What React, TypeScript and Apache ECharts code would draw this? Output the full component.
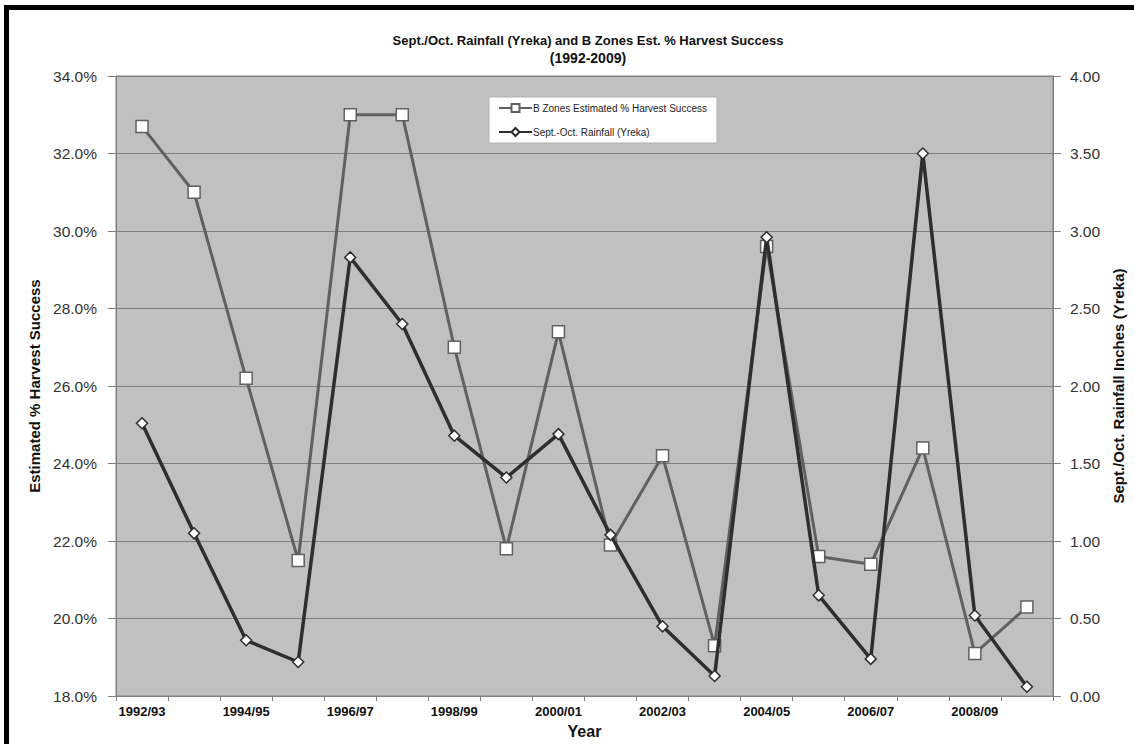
import React, { useEffect, useRef } from "react";
import * as echarts from "echarts";

const categories = [
  "1992/93", "1993/94", "1994/95", "1995/96", "1996/97", "1997/98",
  "1998/99", "1999/00", "2000/01", "2001/02", "2002/03", "2003/04",
  "2004/05", "2005/06", "2006/07", "2007/08", "2008/09", "2009/10",
];
const harvestPct = [
  32.7, 31.0, 26.2, 21.5, 33.0, 33.0, 27.0, 21.8, 27.4,
  21.9, 24.2, 19.3, 29.6, 21.6, 21.4, 24.4, 19.1, 20.3,
];
const rainfallIn = [
  1.76, 1.05, 0.36, 0.22, 2.83, 2.4, 1.68, 1.41, 1.69,
  1.04, 0.45, 0.13, 2.96, 0.65, 0.24, 3.5, 0.52, 0.06,
];
const harvestName = "B Zones Estimated % Harvest Success";
const rainName = "Sept.-Oct. Rainfall (Yreka)";

const FONT = "'Liberation Sans', Arial, Helvetica, sans-serif";

export default function App() {
  const ref = useRef<HTMLDivElement>(null);
  useEffect(() => {
    document.body.style.margin = "0";
    const chart = echarts.init(ref.current!, null, { renderer: "svg" });
    chart.setOption({
      animation: false,
      backgroundColor: "#ffffff",
      textStyle: { fontFamily: FONT },
      title: [
        {
          text: "Sept./Oct. Rainfall (Yreka) and B Zones Est. % Harvest Success",
          left: 588,
          top: 33,
          textAlign: "center",
          padding: 0,
          textStyle: { fontSize: 13, fontWeight: "bold", color: "#111", lineHeight: 14, fontFamily: FONT },
        },
        {
          text: "(1992-2009)",
          left: 588,
          top: 51,
          textAlign: "center",
          padding: 0,
          textStyle: { fontSize: 14, fontWeight: "bold", color: "#111", lineHeight: 14, fontFamily: FONT },
        },
      ],
      legend: {
        orient: "vertical",
        left: 489,
        top: 97,
        padding: [6, 10, 6, 9],
        itemGap: 14,
        itemWidth: 33,
        itemHeight: 10,
        backgroundColor: "#ffffff",
        borderColor: "#b0b0b0",
        borderWidth: 1,
        textStyle: { fontSize: 10, color: "#222", fontFamily: FONT, padding: [0, 0, 0, -4] },
        data: [harvestName, rainName],
      },
      grid: {
        left: 116,
        right: 71,
        top: 76,
        bottom: 47,
        show: true,
        backgroundColor: "#c0c0c0",
        borderColor: "#808080",
        borderWidth: 1,
        containLabel: false,
      },
      xAxis: {
        type: "category",
        data: categories,
        boundaryGap: true,
        name: "Year",
        nameLocation: "middle",
        nameGap: 20,
        nameTextStyle: { fontSize: 16, fontWeight: "bold", color: "#111", fontFamily: FONT },
        axisLine: { lineStyle: { color: "#808080", width: 1 } },
        axisTick: { show: true, interval: 0, length: 5, lineStyle: { color: "#808080" } },
        axisLabel: {
          interval: 1,
          margin: 9,
          fontSize: 13,
          fontWeight: "bold",
          color: "#111",
          fontFamily: FONT,
        },
        splitLine: { show: false },
      },
      yAxis: [
        {
          type: "value",
          min: 18,
          max: 34,
          interval: 2,
          position: "left",
          name: "Estimated % Harvest Success",
          nameLocation: "middle",
          nameRotate: 90,
          nameGap: 66,
          nameTextStyle: { fontSize: 15, fontWeight: "bold", color: "#111", fontFamily: FONT },
          axisLine: { show: true, lineStyle: { color: "#808080", width: 1 } },
          axisTick: { show: true, length: 8, inside: false, lineStyle: { color: "#808080" } },
          axisLabel: {
            margin: 19,
            fontSize: 15.5,
            color: "#333",
            fontFamily: FONT,
            formatter: (v: number) => v.toFixed(1) + "%",
          },
          splitLine: { show: true, lineStyle: { color: "#7f7f7f", width: 1 } },
        },
        {
          type: "value",
          min: 0,
          max: 4,
          interval: 0.5,
          position: "right",
          name: "Sept./Oct. Rainfall Inches (Yreka)",
          nameLocation: "middle",
          nameRotate: 90,
          nameGap: 51,
          nameTextStyle: { fontSize: 15, fontWeight: "bold", color: "#111", fontFamily: FONT },
          axisLine: { show: true, lineStyle: { color: "#808080", width: 1 } },
          axisTick: { show: true, length: 8, inside: false, lineStyle: { color: "#808080" } },
          axisLabel: {
            margin: 17,
            fontSize: 15.5,
            color: "#333",
            fontFamily: FONT,
            formatter: (v: number) => v.toFixed(2),
          },
          splitLine: { show: false },
        },
      ],
      series: [
        {
          name: harvestName,
          type: "line",
          yAxisIndex: 0,
          data: harvestPct,
          symbol: "rect",
          symbolSize: 12,
          showAllSymbol: true,
          lineStyle: { color: "#606060", width: 3 },
          itemStyle: { color: "#ffffff", borderColor: "#606060", borderWidth: 1.5 },
          z: 2,
        },
        {
          name: rainName,
          type: "line",
          yAxisIndex: 1,
          data: rainfallIn,
          symbol: "diamond",
          symbolSize: 11,
          showAllSymbol: true,
          lineStyle: { color: "#2e2e2e", width: 3.5 },
          itemStyle: { color: "#ffffff", borderColor: "#2e2e2e", borderWidth: 1.5 },
          z: 3,
        },
      ],
      graphic: [
        { type: "rect", left: 4, top: 5, shape: { width: 1130, height: 5 }, style: { fill: "#000" }, silent: true },
        { type: "rect", left: 4, top: 5, shape: { width: 5, height: 739 }, style: { fill: "#000" }, silent: true },
      ],
    });
    return () => chart.dispose();
  }, []);
  return (
    <div
      ref={ref}
      style={{ position: "absolute", left: 0, top: 0, width: 1134, height: 744, background: "#fff" }}
    />
  );
}
